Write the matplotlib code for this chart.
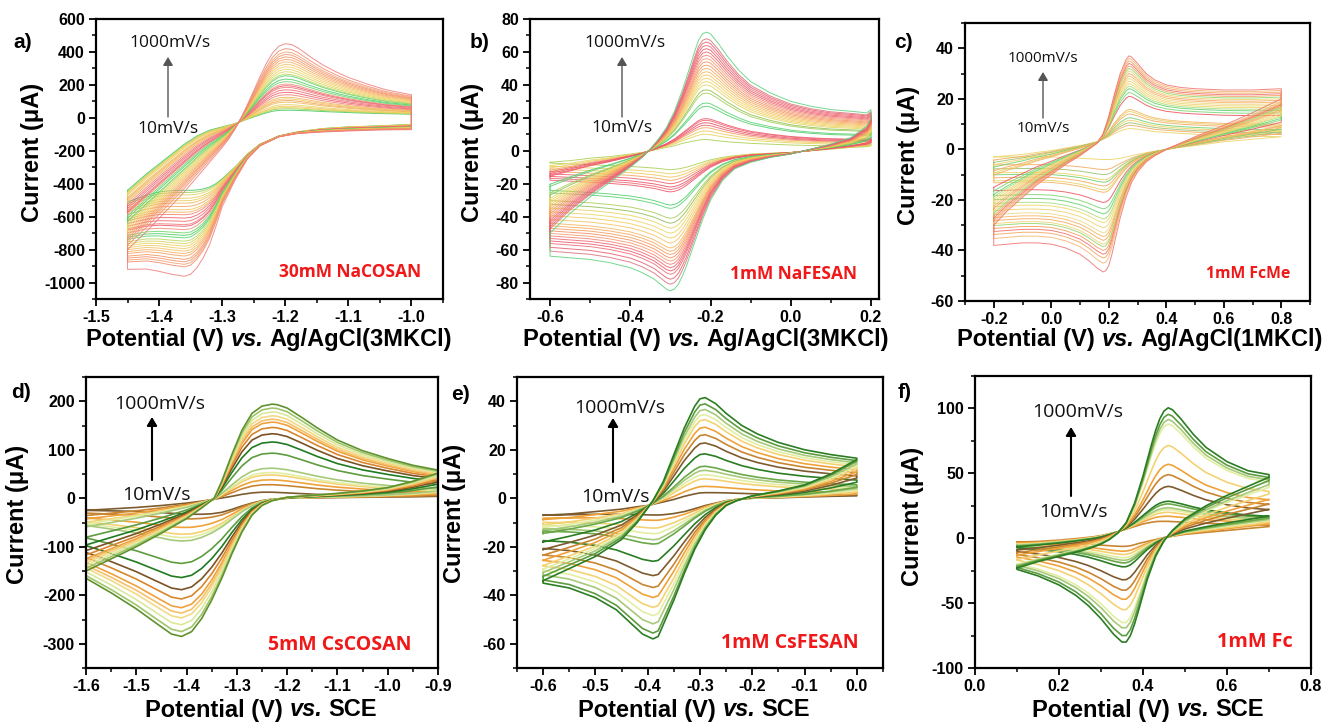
import numpy as np
import matplotlib
matplotlib.use('Agg')
import matplotlib.pyplot as plt
from matplotlib.ticker import MultipleLocator, FormatStrFormatter

plt.rcParams['font.family'] = ['Liberation Sans', 'DejaVu Sans']
plt.rcParams['axes.unicode_minus'] = False

W, H = 1323, 722

# ---- a) 30mM NaCOSAN : smallest (10 mV/s) and largest (1000 mV/s) loops
e_up_a = [-1.45, -1.42, -1.40, -1.38, -1.36, -1.34, -1.32, -1.30, -1.29, -1.28, -1.27, -1.26, -1.25, -1.24,
          -1.23, -1.22, -1.21, -1.20, -1.19, -1.18, -1.16, -1.14, -1.12, -1.10, -1.07, -1.04, -1.00]
i_up_hi_a = [-800, -690, -610, -530, -450, -360, -270, -180, -130, -70, 0, 80, 165, 250,
             330, 395, 435, 450, 445, 425, 370, 320, 280, 245, 205, 170, 140]
i_up_lo_a = [-440, -340, -280, -220, -160, -110, -75, -55, -45, -35, -22, -8, 5, 18,
             30, 40, 45, 46, 46, 45, 42, 38, 35, 32, 28, 25, 22]
e_dn_a = [-1.00, -1.03, -1.06, -1.10, -1.14, -1.18, -1.21, -1.24, -1.26, -1.28, -1.30, -1.31, -1.32, -1.33,
          -1.34, -1.35, -1.36, -1.38, -1.40, -1.42, -1.45]
i_dn_hi_a = [-72, -73, -75, -80, -86, -95, -115, -170, -250, -380, -540, -660, -770, -850,
             -910, -950, -962, -950, -932, -918, -920]
i_dn_lo_a = [-40, -45, -50, -55, -65, -85, -110, -160, -220, -300, -370, -400, -420, -432,
             -438, -440, -440, -442, -450, -470, -510]
ipa_a = [46, 55, 62, 70, 80, 95, 105, 115, 125, 140, 155, 170, 185, 195, 205, 220, 235, 255, 265, 280,
         295, 310, 325, 340, 355, 370, 385, 400, 420, 450]
ipc_a = [-442, -455, -470, -490, -505, -520, -540, -560, -575, -590, -610, -630, -650, -660, -680, -700,
         -715, -730, -750, -765, -780, -795, -810, -825, -840, -860, -875, -890, -905, -962]

# ---- b) 1mM NaFESAN
e_up_b = [-0.60, -0.55, -0.50, -0.45, -0.40, -0.37, -0.35, -0.33, -0.31, -0.29, -0.27, -0.25, -0.24, -0.23,
          -0.22, -0.21, -0.20, -0.18, -0.16, -0.13, -0.10, -0.05, 0.00, 0.05, 0.10, 0.15, 0.19, 0.20]
i_up_hi_b = [-50, -38, -28, -19, -10, -4, 1, 7, 14, 24, 37, 52, 60, 67,
             71, 72, 71, 65, 58, 49, 42, 35, 30, 27, 25, 24, 23, 25]
i_up_lo_b = [-7, -6, -4.5, -3.5, -2, -1, 0, 1, 2, 3, 4.5, 5.5, 6, 6.5,
             6.8, 6.8, 6.6, 6, 5.5, 5, 4.5, 4, 3.5, 3.2, 3, 3, 3, 4]
e_dn_b = [0.20, 0.19, 0.15, 0.10, 0.05, 0.00, -0.05, -0.10, -0.14, -0.17, -0.20, -0.22, -0.24, -0.26,
          -0.27, -0.28, -0.29, -0.30, -0.31, -0.32, -0.34, -0.37, -0.40, -0.45, -0.50, -0.55, -0.60]
i_dn_hi_b = [20, 15, 8, 4, 1, -2, -4, -7, -11, -18, -30, -42, -56, -70,
             -76, -81, -84, -85, -84, -82, -78, -74, -71, -68, -66, -65, -64]
i_dn_lo_b = [3, 2.5, 2, 1, 0, -1, -1.5, -2, -3, -4, -5.5, -7, -8.5, -10,
             -10.5, -11, -11.3, -11.5, -11.3, -11, -10.5, -10, -9.5, -9, -8.5, -8, -7.5]
ipa_b = [6.8, 10, 12, 14, 15.5, 17, 18.5, 19.5, 27, 29, 35, 37, 40, 42, 44, 46, 48, 50, 52, 54,
         56, 58, 60, 62, 64, 66, 68, 72]
ipc_b = [-11.5, -14, -16, -18, -20, -22, -23.5, -25, -33, -35, -41, -44, -47, -50, -53, -56, -59, -61,
         -63, -65, -67, -69, -71, -73, -75, -78, -81, -85]

# ---- c) 1mM FcMe
e_up_c = [-0.20, -0.15, -0.10, -0.05, 0.00, 0.05, 0.10, 0.13, 0.16, 0.18, 0.20, 0.22, 0.24, 0.26,
          0.27, 0.28, 0.30, 0.33, 0.36, 0.40, 0.45, 0.50, 0.60, 0.70, 0.80]
i_up_hi_c = [-30, -24, -19, -14, -10, -6, -2.5, 0, 2.5, 6, 13, 22, 30, 35.5,
             37, 36.5, 34, 30, 27.5, 25.5, 24.5, 24, 23.5, 23.5, 24]
i_up_lo_c = [-3, -2.5, -2, -1.2, -0.5, 0.5, 1.5, 2.2, 3, 4, 5, 6.3, 7.3, 8,
             8.2, 8.2, 8, 7.5, 7, 6.7, 6.3, 6, 5.5, 5.2, 5]
e_dn_c = [0.80, 0.70, 0.60, 0.50, 0.45, 0.40, 0.36, 0.33, 0.30, 0.28, 0.26, 0.24, 0.22, 0.21,
          0.20, 0.19, 0.18, 0.16, 0.13, 0.10, 0.05, 0.00, -0.05, -0.10, -0.15, -0.20]
i_dn_hi_c = [20, 14.5, 9.5, 5, 2.5, 0, -2.5, -5, -9, -13, -19, -27, -37, -42,
             -46, -48, -48.5, -47, -44, -41.5, -39, -37.5, -37, -37, -37.5, -38]
i_dn_lo_c = [5, 4, 3, 1.5, 0.8, 0, -0.7, -1.3, -2, -2.5, -3, -3.5, -3.8, -4,
             -4, -4, -4, -3.9, -3.7, -3.5, -3.2, -3, -3, -3, -3, -3]
ipa_c = [8.2, 9.5, 10.5, 11.5, 12.5, 14, 15, 15.8, 21, 22.5, 24, 25, 26, 27, 28, 29, 30, 31, 32, 33,
         34, 35, 36, 37]
ipc_c = [-4, -8, -10, -12, -13, -14.5, -16, -17, -21, -23.5, -25.5, -27.5, -29, -31, -33, -34.5, -36,
         -37.5, -38.5, -40, -41.5, -43, -45, -48.5]

# ---- d) 5mM CsCOSAN
e_up_d = [-1.60, -1.55, -1.50, -1.45, -1.40, -1.37, -1.345, -1.33, -1.31, -1.29, -1.27, -1.25, -1.23,
          -1.22, -1.20, -1.17, -1.14, -1.10, -1.05, -1.00, -0.95, -0.90]
i_up_hi_d = [-150, -125, -100, -72, -42, -20, 0, 35, 90, 140, 175, 190, 194,
             193, 186, 166, 145, 120, 98, 82, 68, 58]
i_up_lo_d = [-25, -22, -19, -15, -10, -6, -2, 0.5, 4, 8, 11, 12.5, 12.5,
             12, 11, 9.5, 8, 7, 6, 5.5, 5, 5]
e_dn_d = [-0.90, -0.95, -1.00, -1.05, -1.10, -1.15, -1.20, -1.23, -1.25, -1.27, -1.29, -1.31, -1.33,
          -1.35, -1.37, -1.39, -1.41, -1.43, -1.46, -1.50, -1.55, -1.60]
i_dn_hi_d = [52, 35, 22, 15, 10, 6, 2, -5, -15, -35, -70, -115, -165,
             -210, -248, -275, -285, -280, -258, -228, -195, -165]
i_dn_lo_d = [4, 3, 2.5, 2, 1.5, 1, 0, -2, -5, -10, -16, -23, -29,
             -32, -33, -33, -32, -31, -29, -27, -26, -25]
ipa_d = [12.5, 28, 38, 48, 53, 62, 93, 116, 133, 146, 157, 163, 170, 178, 186, 194]
ipc_d = [-33, -43, -61, -75, -82, -89, -135, -164, -189, -208, -226, -237, -247, -261, -275, -285]

# ---- e) 1mM CsFESAN
e_up_e = [-0.60, -0.55, -0.50, -0.45, -0.42, -0.40, -0.39, -0.37, -0.35, -0.33, -0.31, -0.30, -0.29,
          -0.27, -0.25, -0.22, -0.19, -0.15, -0.10, -0.05, 0.00]
i_up_hi_e = [-34, -29, -24, -17, -10, -4, -1, 7, 18, 29, 38, 41, 41.5,
             39, 35, 30, 26.5, 23, 20, 18, 16.5]
i_up_lo_e = [-7, -6.5, -5.5, -4.5, -3.5, -3, -2.5, -1.5, -0.5, 0.8, 1.8, 2.2, 2.3,
             2.3, 2.2, 2, 1.8, 1.6, 1.5, 1.4, 1.3]
e_dn_e = [0.00, -0.05, -0.10, -0.15, -0.20, -0.23, -0.25, -0.27, -0.29, -0.31, -0.33, -0.35, -0.37,
          -0.38, -0.39, -0.41, -0.43, -0.46, -0.50, -0.55, -0.60]
i_dn_hi_e = [16, 10, 5.5, 3, 1, -1, -3, -7, -13, -21, -31, -42, -52,
             -57, -58, -56, -52, -46, -41, -37, -35]
i_dn_lo_e = [1, 0.8, 0.5, 0.2, 0, -0.5, -1, -2, -3, -4.3, -5.5, -6.3, -6.8,
             -6.9, -6.9, -6.8, -6.7, -6.6, -6.6, -6.8, -7]
ipa_e = [2.3, 4.9, 8, 9.7, 11.5, 13.2, 18.3, 22.8, 26.2, 29.3, 32.4, 34.5, 36.6, 38.9, 41.5]
ipc_e = [-6.9, -9.1, -12.3, -14.6, -17.1, -18.9, -26, -31.9, -36.8, -40.9, -45, -48.4, -51.8, -55.6, -58]

# ---- f) 1mM Fc
e_up_f = [0.10, 0.15, 0.20, 0.25, 0.28, 0.30, 0.32, 0.34, 0.36, 0.38, 0.40, 0.42, 0.43, 0.44,
          0.45, 0.46, 0.47, 0.49, 0.52, 0.55, 0.60, 0.65, 0.70]
i_up_hi_f = [-23, -18, -14, -10, -7, -4.5, -1, 4, 12, 27, 48, 72, 83, 92,
             98, 100.5, 99, 92, 80, 70, 59, 52, 49]
i_up_lo_f = [-3, -2.5, -1.5, 0, 1, 2, 3.5, 5, 7, 9, 11, 12.3, 12.8, 13,
             13, 13, 12.8, 12.5, 12, 11.5, 11, 10.5, 10]
e_dn_f = [0.70, 0.65, 0.60, 0.55, 0.50, 0.47, 0.45, 0.43, 0.41, 0.39, 0.38, 0.37, 0.36, 0.35,
          0.33, 0.30, 0.27, 0.24, 0.20, 0.15, 0.10]
i_dn_hi_f = [47, 40, 33, 25, 15, 6, -2, -14, -32, -55, -66, -75, -80, -80,
             -74, -62, -52, -44, -36, -29, -24]
i_dn_lo_f = [9, 7.5, 6, 4.5, 3, 1.5, 0.5, -1, -2.5, -4, -5, -5.8, -6.2, -6.3,
             -6, -5.3, -4.5, -4, -3.5, -3.2, -3]
ipa_f = [13, 17, 20, 22, 23.5, 26.5, 28.5, 40, 49, 57, 71.5, 88, 91.5, 95.5, 100.5]
ipc_f = [-6.3, -10, -12.5, -15, -17, -19, -22, -32, -40, -47, -55, -65, -69, -75, -80]

# colours, smallest scan rate first
col_a = ['#3ec85a', '#9ccf55', '#e3d35a', '#f0c85a', '#e8d060', '#f2b85a', '#f4a45a', '#eec85f',
         '#f5b060', '#f08070', '#ee5c6c', '#ef6a6e', '#f0797a', '#e85a6a', '#f08c78', '#6cd46a',
         '#4ccc60', '#58d264', '#b7d65c', '#d8d45a', '#e9d25e', '#f1cc62', '#f4c064', '#f5b062',
         '#f6a05e', '#f59460', '#f39068', '#f4a070', '#f08a6a', '#f07a7a']
col_b = ['#a8cf52', '#e6d35a', '#f1c65c', '#f4a25c', '#ee5e6c', '#ec4d60', '#f06272', '#ee5566',
         '#4fcd68', '#55d070', '#a6cd55', '#8ebf4f', '#e7d35c', '#edd460', '#f2cc5e', '#f4c35e',
         '#f5b65e', '#f6a85c', '#f59a5c', '#f48d60', '#f59a70', '#f38070', '#ee6470', '#ec5868',
         '#ef6a74', '#ea5a6a', '#d8707a', '#5ad27a']
col_c = ['#e9d465', '#f3a75c', '#9bbf6a', '#eed060', '#6ccf6a', '#f4a65a', '#e8d060', '#f3b15c',
         '#ec4e5e', '#78d46a', '#5fcf6a', '#a7dc7a', '#ecd865', '#f0d06a', '#ecd880', '#f5b35e',
         '#f4a55e', '#ecd470', '#8fd46a', '#f39a56', '#ee6a6a', '#f3a25a', '#f6b470', '#f07070']
col_d = ['#7d5b2f', '#c98530', '#f0a23a', '#f4d273', '#e3eea3', '#a6c97a', '#5d9c3f', '#1f7a20',
         '#7a5224', '#d9852b', '#f0a03c', '#f6c068', '#f2d985', '#dbe89b', '#9fc56a', '#5f922e']
col_e = ['#7d5b2f', '#f0a23a', '#f4d273', '#e3eea3', '#a6c97a', '#6aa84a', '#2a7d22', '#7d5b2f',
         '#c98530', '#f0a23a', '#f4d273', '#e3eea3', '#a6c97a', '#5d9c3f', '#2a7d22']
col_f = ['#c98530', '#f0a23a', '#f4d273', '#e3eea3', '#a6c97a', '#6aa84a', '#2a7d22', '#7d5b2f',
         '#c98530', '#f0a23a', '#f4d273', '#e3eea3', '#a6c97a', '#5d9c3f', '#2a7d22']


def fx(px):
    return px / W


def fy(py):
    return 1 - py / H


def draw_cv(ax, e_up, up_lo, up_hi, ipa, e_dn, dn_lo, dn_hi, ipc, colors, lw, alpha):
    e = np.concatenate([e_up, e_dn, e_up[:1]])
    up_lo, up_hi = np.array(up_lo, float), np.array(up_hi, float)
    dn_lo, dn_hi = np.array(dn_lo, float), np.array(dn_hi, float)
    for k in range(len(ipa)):
        wa = (ipa[k] - ipa[0]) / (ipa[-1] - ipa[0])
        wc = (ipc[k] - ipc[0]) / (ipc[-1] - ipc[0])
        up = up_lo + wa * (up_hi - up_lo)
        dn = dn_lo + wc * (dn_hi - dn_lo)
        ax.plot(e, np.concatenate([up, dn, up[:1]]), color=colors[k], lw=lw, alpha=alpha,
                solid_joinstyle='round')


fig = plt.figure(figsize=(W / 100, H / 100), dpi=100)

panels = [
    dict(box=(96, 19, 443, 299), cv=(e_up_a, i_up_lo_a, i_up_hi_a, ipa_a, e_dn_a, i_dn_lo_a, i_dn_hi_a, ipc_a),
         col=col_a, lw=0.7, alpha=0.85, xlim=(-1.5, -0.95), ylim=(-1100, 600), xmaj=0.1, xmin=0.05,
         yt=(-1000, 600, 200), ymin=100, tag='a)', tagpos=(23, 43), tail='Ag/AgCl(3MKCl)', xl=(86, 340),
         yl=(33, 152), up=(170, 43, 12.5), arrow=(168, 117, 57, '#555555', 1.0), lo=(168, 129, 12.5),
         name='30mM NaCOSAN', namepos=(350, 272, 12.5)),
    dict(box=(530, 19, 879, 299), cv=(e_up_b, i_up_lo_b, i_up_hi_b, ipa_b, e_dn_b, i_dn_lo_b, i_dn_hi_b, ipc_b),
         col=col_b, lw=0.7, alpha=0.85, xlim=(-0.65, 0.22), ylim=(-90, 80), xmaj=0.2, xmin=0.1,
         yt=(-80, 80, 20), ymin=10, tag='b)', tagpos=(480, 42), tail='Ag/AgCl(3MKCl)', xl=(523, 340),
         yl=(473, 152), up=(625, 43, 12.5), arrow=(622, 117, 57, '#555555', 1.0), lo=(622, 128, 12.5),
         name='1mM NaFESAN', namepos=(793, 274, 12.5)),
    dict(box=(965, 23, 1310, 301), cv=(e_up_c, i_up_lo_c, i_up_hi_c, ipa_c, e_dn_c, i_dn_lo_c, i_dn_hi_c, ipc_c),
         col=col_c, lw=0.7, alpha=0.85, xlim=(-0.3, 0.9), ylim=(-60, 50), xmaj=0.2, xmin=0.1,
         yt=(-60, 40, 20), ymin=10, tag='c)', tagpos=(903, 43), tail='Ag/AgCl(1MKCl)', xl=(957, 340),
         yl=(908, 155), up=(1043, 59, 11), arrow=(1043, 118, 72, '#555555', 1.0), lo=(1043, 129, 11),
         name='1mM FcMe', namepos=(1248, 274, 11.3)),
    dict(box=(86, 377, 438, 668), cv=(e_up_d, i_up_lo_d, i_up_hi_d, ipa_d, e_dn_d, i_dn_lo_d, i_dn_hi_d, ipc_d),
         col=col_d, lw=1.2, alpha=1.0, xlim=(-1.6, -0.9), ylim=(-350, 250), xmaj=0.1, xmin=0.05,
         yt=(-300, 200, 100), ymin=50, tag='d)', tagpos=(21, 393), tail='SCE', xl=(145, 710),
         yl=(18, 514), up=(160, 404, 14), arrow=(152, 480, 417, 'black', 1.5), lo=(156, 495, 14),
         name='5mM CsCOSAN', namepos=(340, 645, 14)),
    dict(box=(517, 377, 883, 668), cv=(e_up_e, i_up_lo_e, i_up_hi_e, ipa_e, e_dn_e, i_dn_lo_e, i_dn_hi_e, ipc_e),
         col=col_e, lw=1.2, alpha=1.0, xlim=(-0.65, 0.05), ylim=(-70, 50), xmaj=0.1, xmin=0.05,
         yt=(-60, 40, 20), ymin=10, tag='e)', tagpos=(461, 395), tail='SCE', xl=(578, 710),
         yl=(455, 513), up=(620, 408, 14), arrow=(613, 482, 418, 'black', 1.5), lo=(615, 497, 14),
         name='1mM CsFESAN', namepos=(790, 643, 14)),
    dict(box=(975, 376, 1311, 668), cv=(e_up_f, i_up_lo_f, i_up_hi_f, ipa_f, e_dn_f, i_dn_lo_f, i_dn_hi_f, ipc_f),
         col=col_f, lw=1.2, alpha=1.0, xlim=(0.0, 0.8), ylim=(-100, 125), xmaj=0.2, xmin=0.1,
         yt=(-100, 100, 50), ymin=25, tag='f)', tagpos=(905, 393), tail='SCE', xl=(1032, 710),
         yl=(912, 516), up=(1078, 412, 14), arrow=(1071, 496, 427, 'black', 1.5), lo=(1073, 512, 14),
         name='1mM Fc', namepos=(1255, 642, 14.3)),
]

for p in panels:
    l, t, r, b = p['box']
    ax = fig.add_axes([fx(l), fy(b), (r - l) / W, (b - t) / H])
    draw_cv(ax, *p['cv'], colors=p['col'], lw=p['lw'], alpha=p['alpha'])
    ax.set_xlim(*p['xlim'])
    ax.set_ylim(*p['ylim'])
    ax.xaxis.set_major_locator(MultipleLocator(p['xmaj']))
    ax.xaxis.set_minor_locator(MultipleLocator(p['xmin']))
    ax.xaxis.set_major_formatter(FormatStrFormatter('%.1f'))
    y0, y1, dy = p['yt']
    ax.set_yticks(np.arange(y0, y1 + dy / 2, dy))
    ax.yaxis.set_minor_locator(MultipleLocator(p['ymin']))
    ax.tick_params(which='major', direction='out', length=5, width=1.3, labelsize=11.5, pad=3,
                   top=False, right=False)
    ax.tick_params(which='minor', direction='out', length=3, width=1.1, top=False, right=False)
    for lab in ax.get_xticklabels() + ax.get_yticklabels():
        lab.set_fontweight('bold')
    for sp in ax.spines.values():
        sp.set_linewidth(1.6)

    # panel tag and axis labels
    fig.text(fx(p['tagpos'][0]), fy(p['tagpos'][1]), p['tag'], fontsize=15, fontweight='bold',
             ha='center', va='center')
    fig.text(fx(p['yl'][0]), fy(p['yl'][1]), 'Current (\u03bcA)', fontsize=17, fontweight='bold',
             rotation=90, ha='center', va='center')
    t1 = fig.text(fx(p['xl'][0]), fy(p['xl'][1]), 'Potential (V)', fontsize=17, fontweight='bold',
                  ha='left', va='center')
    t2 = ax.annotate('vs.', xy=(1, 0), xycoords=t1, xytext=(4.7, 0), textcoords='offset points',
                     fontsize=17, fontweight='bold', fontstyle='italic', ha='left', va='bottom')
    ax.annotate(p['tail'], xy=(1, 0), xycoords=t2, xytext=(4.7, 0), textcoords='offset points',
                fontsize=17, fontweight='bold', ha='left', va='bottom')

    # scan-rate arrow
    ux, uy, us = p['up']
    fig.text(fx(ux), fy(uy), '1000mV/s', fontsize=us, family=['Open Sans', 'DejaVu Sans'],
             color='#111111', ha='center', va='center')
    lx, ly, ls = p['lo']
    fig.text(fx(lx), fy(ly), '10mV/s', fontsize=ls, family=['Open Sans', 'DejaVu Sans'],
             color='#111111', ha='center', va='center')
    axx, ay0, ay1, acol, alw = p['arrow']
    fig.add_artist(matplotlib.patches.FancyArrowPatch(
        (fx(axx), fy(ay0)), (fx(axx), fy(ay1)), transform=fig.transFigure,
        arrowstyle='-|>,head_length=5,head_width=3', color=acol, lw=alw, mutation_scale=1,
        shrinkA=0, shrinkB=0))
    nx, ny, ns = p['namepos']
    fig.text(fx(nx), fy(ny), p['name'], fontsize=ns, color='#f01818', fontweight='bold',
             family=['Open Sans', 'DejaVu Sans'], ha='center', va='center')

fig.savefig('out.png', dpi=100)
